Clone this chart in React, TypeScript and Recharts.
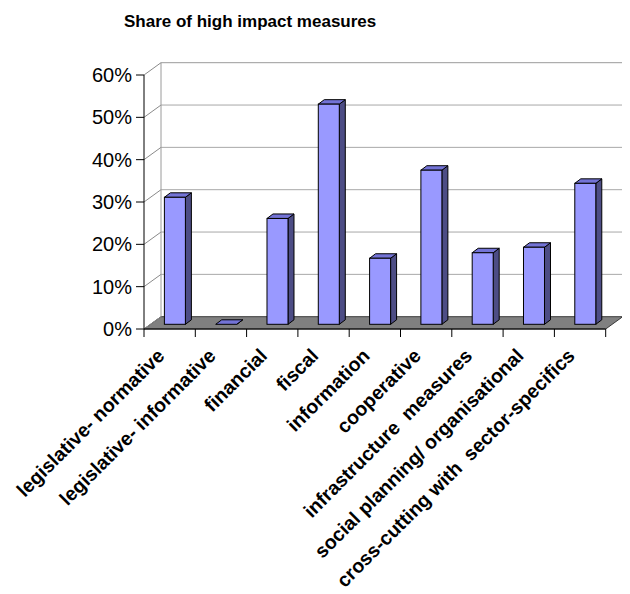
import React from 'react';
import { BarChart, Bar, XAxis, YAxis, CartesianGrid } from 'recharts';

const categories = [
  'legislative- normative',
  'legislative- informative',
  'financial',
  'fiscal',
  'information',
  'cooperative',
  'infrastructure  measures',
  'social planning/ organisational',
  'cross-cutting with  sector-specifics',
];
const shares = [0.3, 0.0, 0.25, 0.52, 0.156, 0.364, 0.169, 0.182, 0.333];
const yTicks = [0, 0.1, 0.2, 0.3, 0.4, 0.5, 0.6];
const chartTitle = 'Share of high impact measures';

const data = categories.map((name, i) => ({ name, share: shares[i] }));

const FONT = '"Liberation Sans", Arial, Helvetica, sans-serif';
const DEPTH_X = 17;
const DEPTH_Y = -12.3;
const BAR_OX = 5;
const BAR_OY = -4.7;
const BAR_DX = 6;
const BAR_DY = -4.5;

const renderGridLine = (props: any) => {
  const { x1, x2, y1, index } = props;
  const top = props.y;
  const bottom = props.y != null && props.height != null ? props.y + props.height : undefined;
  const isBottom = bottom != null ? Math.abs(y1 - bottom) < 0.5 : index === 0;
  const isTop = top != null ? Math.abs(y1 - top) < 0.5 : index === yTicks.length - 1;
  const bx1 = x1 + DEPTH_X;
  const bx2 = x2 + DEPTH_X;
  const by = y1 + DEPTH_Y;
  const floorBack = (bottom != null ? bottom : y1) + DEPTH_Y;
  return (
    <g key={`grid-${index}`}>
      {isBottom && (
        <polygon
          points={`${x1},${y1} ${x2},${y1} ${bx2},${by} ${bx1},${by}`}
          fill="#808080"
          stroke="#3a3a3a"
          strokeWidth={1}
        />
      )}
      {isTop && (
        <g>
          <line x1={bx1} y1={by} x2={bx1} y2={floorBack} stroke="#9a9a9a" strokeWidth={1} />
          <line x1={bx2} y1={by} x2={bx2} y2={floorBack} stroke="#9a9a9a" strokeWidth={1} />
        </g>
      )}
      {!isBottom && (
        <line x1={bx1} y1={by} x2={bx2} y2={by} stroke={isTop ? '#9a9a9a' : '#a8a8a8'} strokeWidth={1} />
      )}
      <line x1={x1} y1={y1} x2={bx1} y2={by} stroke="#8a8a8a" strokeWidth={1} />
    </g>
  );
};

const Bar3D = (props: any) => {
  const { x, y, width, height } = props;
  if (x == null || y == null) return null;
  const h = Math.max(height || 0, 0);
  const fx = x + BAR_OX;
  const fy = y + BAR_OY;
  const w = width;
  const side = `${fx + w},${fy} ${fx + w + BAR_DX},${fy + BAR_DY} ${fx + w + BAR_DX},${fy + h + BAR_DY} ${fx + w},${fy + h}`;
  const topFace = `${fx},${fy} ${fx + BAR_DX},${fy + BAR_DY} ${fx + w + BAR_DX},${fy + BAR_DY} ${fx + w},${fy}`;
  return (
    <g>
      <polygon points={side} fill="#4d4d85" stroke="#000" strokeWidth={1} strokeLinejoin="round" />
      <polygon points={topFace} fill="#7373d6" stroke="#000" strokeWidth={1} strokeLinejoin="round" />
      <rect x={fx} y={fy} width={w} height={h} fill="#9999ff" stroke="#000" strokeWidth={1} />
    </g>
  );
};

const CategoryTick = (props: any) => {
  const { x, y, payload } = props;
  const idx = props.index != null ? props.index : payload.index;
  const half = payload && payload.offset ? payload.offset : 25.65;
  const ax = x - 4;
  const ay = y + 28;
  return (
    <g>
      <line x1={x - half} y1={y} x2={x - half} y2={y + 8} stroke="#000" strokeWidth={1} />
      {idx === categories.length - 1 && (
        <line x1={x + half} y1={y} x2={x + half} y2={y + 8} stroke="#000" strokeWidth={1} />
      )}
      <text
        x={ax}
        y={ay}
        transform={`rotate(-45, ${ax}, ${ay})`}
        textAnchor="end"
        fontFamily={FONT}
        fontWeight="bold"
        fontSize={19.5}
        fill="#000"
        style={{ whiteSpace: 'pre' }}
      >
        {payload.value}
      </text>
    </g>
  );
};

export default function App() {
  return (
    <div style={{ position: 'relative', width: 630, height: 594 }}>
      <BarChart
        width={630}
        height={594}
        data={data}
        margin={{ top: 67, right: 32.3, bottom: 73, left: 56 }}
        barCategoryGap="30%"
      >
        <CartesianGrid vertical={false} horizontal={renderGridLine} />
        <YAxis
          width={80}
          domain={[0, 0.6]}
          ticks={yTicks}
          interval={0}
          tickFormatter={(v: number) => `${Math.round(v * 100)}%`}
          tick={{ fill: '#000', fontSize: 20, fontFamily: FONT }}
          axisLine={{ stroke: '#000' }}
          tickLine={{ stroke: '#000' }}
          tickSize={8}
          tickMargin={4}
        />
        <XAxis
          dataKey="name"
          height={200}
          interval={0}
          axisLine={{ stroke: '#000' }}
          tickLine={false}
          tickSize={0}
          tickMargin={0}
          tick={<CategoryTick />}
        />
        <Bar dataKey="share" shape={<Bar3D />} isAnimationActive={false} />
      </BarChart>
      <svg
        width={630}
        height={40}
        style={{ position: 'absolute', left: 0, top: 0, pointerEvents: 'none' }}
      >
        <text x={116} y={19} fontFamily={FONT} fontWeight="bold" fontSize={17} fill="#000">
          {chartTitle}
        </text>
      </svg>
    </div>
  );
}
